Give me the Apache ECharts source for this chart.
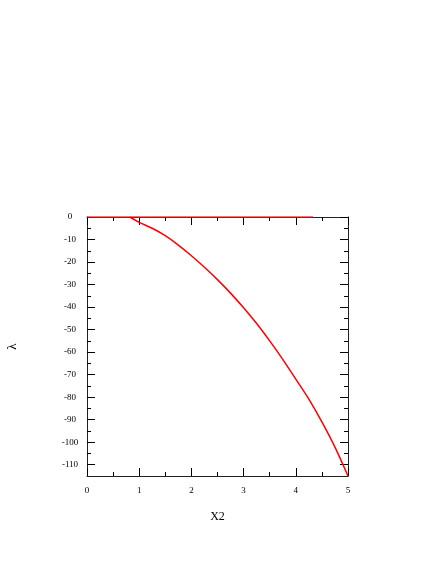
<!DOCTYPE html>
<html>
<head>
<meta charset="utf-8">
<script src="https://cdn.jsdelivr.net/npm/echarts@6/dist/echarts.min.js"></script>
<style>
  html, body { margin: 0; padding: 0; background: #fff; }
  #chart { width: 436px; height: 564px; }
</style>
</head>
<body>
<div id="chart"></div>
<script>
// flat branch, lambda = 0
const flatX = [0, 4.33];
const flatLambda = [0, 0];

// bending branch
const branchX = [0.82, 0.9, 1.0, 1.25, 1.5, 1.75, 2.0, 2.25, 2.5, 2.75, 3.0, 3.25, 3.5, 3.75, 4.0, 4.25, 4.5, 4.75, 5.0];
const branchLambda = [0, -1.1, -2.4, -5.0, -8.3, -12.5, -17.2, -22.3, -27.8, -33.8, -40.3, -47.3, -55.0, -63.2, -72.0, -80.9, -91.0, -102.2, -115.0];

// y ticks: labelled every 10, small ticks every 5
const yMajorTicks = [0, -10, -20, -30, -40, -50, -60, -70, -80, -90, -100, -110];
const yMinorTicks = [-5, -15, -25, -35, -45, -55, -65, -75, -85, -95, -105];

const xName = 'X2';
const yName = 'λ';

const chart = echarts.init(document.getElementById('chart'));

const axisLine = { show: true, onZero: false, lineStyle: { color: '#222', width: 1 } };
const noLine = { show: false, onZero: false };
const tickStyle = { color: '#000', width: 1 };
const labelFont = { fontFamily: 'Liberation Serif', fontSize: 9, color: '#000' };

function xAx(pos, extra) {
  return Object.assign({
    type: 'value', min: 0, max: 5, interval: 1, position: pos,
    axisLine: axisLine,
    axisTick: { show: true, inside: true, length: 8, lineStyle: tickStyle },
    minorTick: { show: true, splitNumber: 2, length: 4, lineStyle: tickStyle },
    axisLabel: { show: false },
    splitLine: { show: false }
  }, extra);
}

function yAx(pos, values, len, showLine, extra) {
  return Object.assign({
    type: 'value', min: -115, max: 0, position: pos,
    axisLine: showLine ? axisLine : noLine,
    axisTick: { show: true, inside: true, length: len, customValues: values, lineStyle: tickStyle },
    axisLabel: { show: false },
    splitLine: { show: false }
  }, extra);
}

const option = {
  backgroundColor: '#fff',
  animation: false,
  grid: { left: 87, right: 88, top: 217, bottom: 88, outerBoundsMode: 'none', containLabel: false },
  xAxis: [
    xAx('bottom', {
      name: xName, nameLocation: 'middle', nameGap: 35,
      nameTextStyle: { fontFamily: 'Liberation Serif', fontSize: 12, color: '#000' },
      axisLabel: Object.assign({ show: true, margin: 10 }, labelFont)
    }),
    xAx('top', {})
  ],
  yAxis: [
    yAx('left', yMajorTicks, 8, true, {
      name: yName, nameLocation: 'middle', nameGap: 68, nameRotate: 90,
      nameTextStyle: { fontFamily: 'Liberation Serif', fontSize: 13, color: '#000' },
      axisLabel: Object.assign({ show: true, margin: 17, align: 'center', customValues: yMajorTicks }, labelFont)
    }),
    yAx('left', yMinorTicks, 4, false, {}),
    yAx('right', yMajorTicks, 8, true, {}),
    yAx('right', yMinorTicks, 4, false, {})
  ],
  series: [
    {
      type: 'line', symbol: 'none',
      data: flatX.map((x, i) => [x, flatLambda[i]]),
      lineStyle: { color: '#ff0000', width: 1.5 }
    },
    {
      type: 'line', symbol: 'none', smooth: 0.3,
      data: branchX.map((x, i) => [x, branchLambda[i]]),
      lineStyle: { color: '#ff0000', width: 1.5 }
    }
  ]
};

chart.setOption(option);
</script>
</body>
</html>
